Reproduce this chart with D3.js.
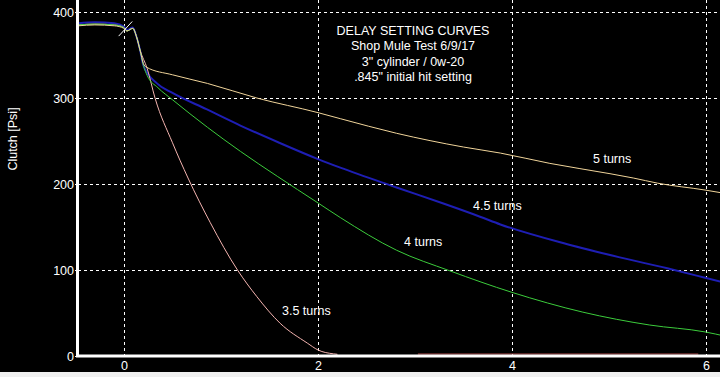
<!DOCTYPE html>
<html>
<head>
<meta charset="utf-8">
<script src="https://cdn.jsdelivr.net/npm/d3@7"></script>
<style>
html,body{margin:0;padding:0;background:#000;overflow:hidden;}
svg{display:block;}
text{font-family:"Liberation Sans",Arial,sans-serif;}
</style>
</head>
<body>
<script>
// ---------- data ----------
const titleLines = ["DELAY SETTING CURVES", "Shop Mule Test 6/9/17", "3\" cylinder / 0w-20", ".845\" initial hit setting"];
const xTicks = [0, 2, 4, 6];
const yTicks = [0, 100, 200, 300, 400];
const yLabel = "Clutch [Psi]";

const turns5 = [[-0.47,384],[-0.3,385],[-0.1,384],[0,381],[0.03,378],[0.09,381],[0.13,371],[0.165,356],[0.2,340],[0.23,336],[0.5,327],[0.86,317],[1.37,300],[2.0,283],[2.23,276],[2.81,259],[3.5,243],[3.88,236],[4.39,224],[5.01,212],[5.25,207],[5.5,201],[5.99,193],[6.2,189]];
const turns45 = [[-0.47,387],[-0.3,388],[-0.1,387],[0,383],[0.03,379],[0.09,382],[0.13,371],[0.165,356],[0.2,338],[0.34,317],[0.5,306],[0.85,287],[1.2,268],[1.6,248],[2.0,229],[2.23,219],[2.81,196],[3.3,177],[3.67,162],[3.88,153],[4.57,130],[5.1,115],[5.6,102],[5.99,91],[6.2,85]];
const turns4 = [[-0.47,385],[-0.3,386],[-0.1,385],[0,382],[0.03,378],[0.09,381],[0.13,371],[0.165,356],[0.2,338],[0.24,326],[0.35,312],[0.5,298],[0.86,266],[1.2,238],[1.58,209],[2.0,178],[2.23,161],[2.81,123],[3.36,99],[4.0,74],[4.73,51],[5.42,36],[5.99,28],[6.2,23]];
const turns35 = [[-0.47,385],[-0.3,386],[-0.1,385],[0,382],[0.03,378],[0.09,381],[0.13,371],[0.165,356],[0.24,334],[0.32,300],[0.5,248],[0.66,207],[0.89,155],[1.17,100],[1.37,69],[1.61,38],[1.89,15],[2.0,7],[2.16,2.5],[2.2,2]];
const turns35Tail = [[3.03,2.3],[5.92,2.3]];
const curveLabels = [
  {text:"5 turns", x:4.835, y:224},
  {text:"4.5 turns", x:3.598, y:170},
  {text:"4 turns", x:2.887, y:128},
  {text:"3.5 turns", x:1.629, y:48}
];

// ---------- chart ----------
const W = 720, H = 377;
const svg = d3.select("body").append("svg").attr("width", W).attr("height", H);
svg.append("rect").attr("width", W).attr("height", H).attr("fill", "#000");
svg.append("rect").attr("x",0).attr("y",372).attr("width",W).attr("height",H-372).attr("fill","#f0f0f0");

const x = d3.scaleLinear().domain([-0.474, 6.144]).range([78, 720]);
const y = d3.scaleLinear().domain([0, 414]).range([356, 0]);

// grid
const grid = svg.append("g").attr("stroke","#fff").attr("stroke-width",1).attr("stroke-dasharray","3,3");
grid.selectAll(".gv").data(xTicks).join("line")
  .attr("x1", d=>Math.round(x(d))+0.5).attr("x2", d=>Math.round(x(d))+0.5)
  .attr("y1", y(414)).attr("y2", y(0));
grid.selectAll(".gh").data(yTicks.filter(d=>d>0)).join("line")
  .attr("y1", d=>Math.round(y(d))+0.5).attr("y2", d=>Math.round(y(d))+0.5)
  .attr("x1", x(-0.474)).attr("x2", x(6.144));

// curves
const line = d3.line().x(d=>x(d[0])).y(d=>y(d[1])).curve(d3.curveMonotoneX);
const series = [
  {data:turns45, color:"#1e1eb4", w:2},
  {data:turns35, color:"#f4b4b0", w:1},
  {data:turns35Tail, color:"#b04a4a", w:1.2},
  {data:turns4, color:"#3ccc3c", w:1},
  {data:turns5, color:"#f0d49a", w:1}
];
svg.append("g").selectAll("path").data(series).join("path")
  .attr("d", d=>line(d.data)).attr("fill","none")
  .attr("stroke", d=>d.color).attr("stroke-width", d=>d.w)
  .attr("stroke-linejoin","round");

// cursor marker
svg.append("line").attr("x1", x(-0.055)).attr("y1", y(372)).attr("x2", x(0.085)).attr("y2", y(389))
  .attr("stroke","#fff").attr("stroke-width",1);

// axes lines
svg.append("line").attr("x1",77.5).attr("x2",77.5).attr("y1",0).attr("y2",357).attr("stroke","#fff").attr("stroke-width",3);
svg.append("line").attr("x1",76).attr("x2",720).attr("y1",356).attr("y2",356).attr("stroke","#fff").attr("stroke-width",3);

const yAxis = svg.append("g").attr("transform","translate(78,0)")
  .call(d3.axisLeft(y).tickValues(yTicks).tickSize(3).tickPadding(1).tickFormat(d3.format("d")));
const xAxis = svg.append("g").attr("transform","translate(0,356)")
  .call(d3.axisBottom(x).tickValues(xTicks).tickSize(0).tickPadding(5.5).tickFormat(d3.format("d")));
[yAxis, xAxis].forEach(g=>{
  g.select(".domain").remove();
  g.selectAll("line").attr("stroke","#fff");
  g.selectAll("text").attr("fill","#fff").style("font-size","12.5px").style("font-family","'Liberation Sans',Arial,sans-serif");
});

// y label
svg.append("text").attr("transform","translate(17,139) rotate(-90)")
  .attr("text-anchor","middle").attr("fill","#fff").style("font-size","12.5px").text(yLabel);

// title
svg.append("g").selectAll("text").data(titleLines).join("text")
  .attr("x", 413).attr("y", (d,i)=>35 + i*15.3)
  .attr("text-anchor","middle").attr("fill","#fff").style("font-size","12.5px").text(d=>d);

// curve labels
svg.append("g").selectAll("text").data(curveLabels).join("text")
  .attr("x", d=>x(d.x)).attr("y", d=>y(d.y))
  .attr("fill","#fff").style("font-size","12.5px").text(d=>d.text);
</script>
</body>
</html>
